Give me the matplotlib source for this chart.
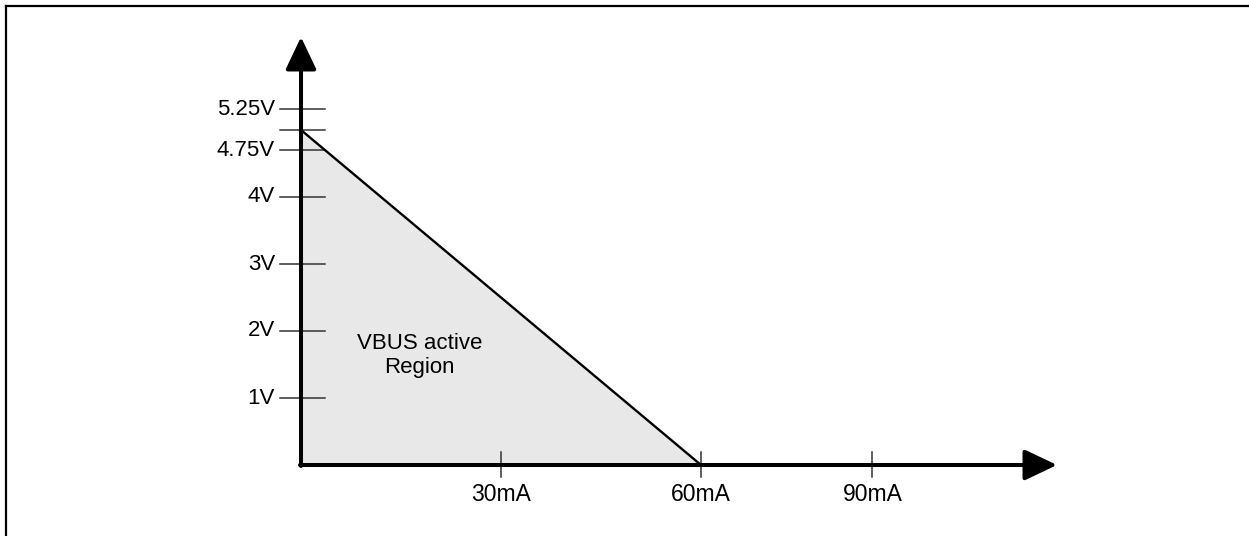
import matplotlib
matplotlib.use("Agg")
import matplotlib.pyplot as plt
from matplotlib.lines import Line2D

# VBUS operating region (schematic, not to scale in the original)
region_current = [0, 0, 60]      # mA
region_voltage = [0, 5.0, 0]     # V
edge_current = [0, 60]
edge_voltage = [5.0, 0]

# tick positions as drawn in the source, with their labels
y_tick_pos = [1, 2, 3, 4, 4.70, 5.0, 5.31]
y_tick_labels = ["1V", "2V", "3V", "4V", "4.75V", "", "5.25V"]
x_tick_pos = [30, 60, 85.7]
x_tick_labels = ["30mA", "60mA", "90mA"]

region_label = "VBUS active\nRegion"

W, H, DPI = 1249, 536, 100
ORIGIN_PX = (301, 465)
PX_X = 30 / 200.0   # mA per pixel
PX_Y = 1 / 67.0     # V per pixel

plt.rcParams["font.family"] = ["Liberation Sans", "DejaVu Sans"]

fig = plt.figure(figsize=(W / DPI, H / DPI), dpi=DPI)
ax = fig.add_axes([0, 0, 1, 1])
ax.set_xlim(-ORIGIN_PX[0] * PX_X, (W - ORIGIN_PX[0]) * PX_X)
ax.set_ylim(-(H - ORIGIN_PX[1]) * PX_Y, ORIGIN_PX[1] * PX_Y)
ax.axis("off")

# frame (only top and left visible)
ax.add_line(Line2D([6 / W, 6 / W], [0, 1 - 6 / H], transform=ax.transAxes,
                   color="black", lw=1.6, solid_capstyle="projecting"))
ax.add_line(Line2D([6 / W, 1], [1 - 6 / H, 1 - 6 / H], transform=ax.transAxes,
                   color="black", lw=1.6, solid_capstyle="projecting"))

ax.fill(region_current, region_voltage, color="#e8e8e8", lw=0, zorder=1)
ax.plot(edge_current, edge_voltage, color="black", lw=1.7, zorder=3)

# ticks
for pos, lab in zip(y_tick_pos, y_tick_labels):
    ax.plot([-21 * PX_X, 24 * PX_X], [pos, pos], color="#333333", lw=1.1, zorder=2)
    if lab:
        ax.text(-26 * PX_X, pos, lab, ha="right", va="center", fontsize=16)
for pos, lab in zip(x_tick_pos, x_tick_labels):
    ax.plot([pos, pos], [-12 * PX_Y, 13 * PX_Y], color="#333333", lw=1.1, zorder=2)
    ax.text(pos, -18 * PX_Y, lab, ha="center", va="top", fontsize=16.5)

# axes with arrow heads
arrow = dict(arrowstyle="-|>,head_length=2.0,head_width=0.95", color="black",
             lw=2.9, shrinkA=0, shrinkB=0, mutation_scale=10)
ax.annotate("", xy=((1057 - ORIGIN_PX[0]) * PX_X, 0), xytext=(-1 * PX_X, 0),
            arrowprops=arrow, zorder=4)
ax.annotate("", xy=(0, (ORIGIN_PX[1] - 37) * PX_Y), xytext=(0, -1 * PX_Y),
            arrowprops=arrow, zorder=4)

ax.text(17.8, 1.63, region_label, ha="center", va="center", fontsize=16,
        linespacing=1.2)

fig.savefig("out.png", dpi=DPI)
